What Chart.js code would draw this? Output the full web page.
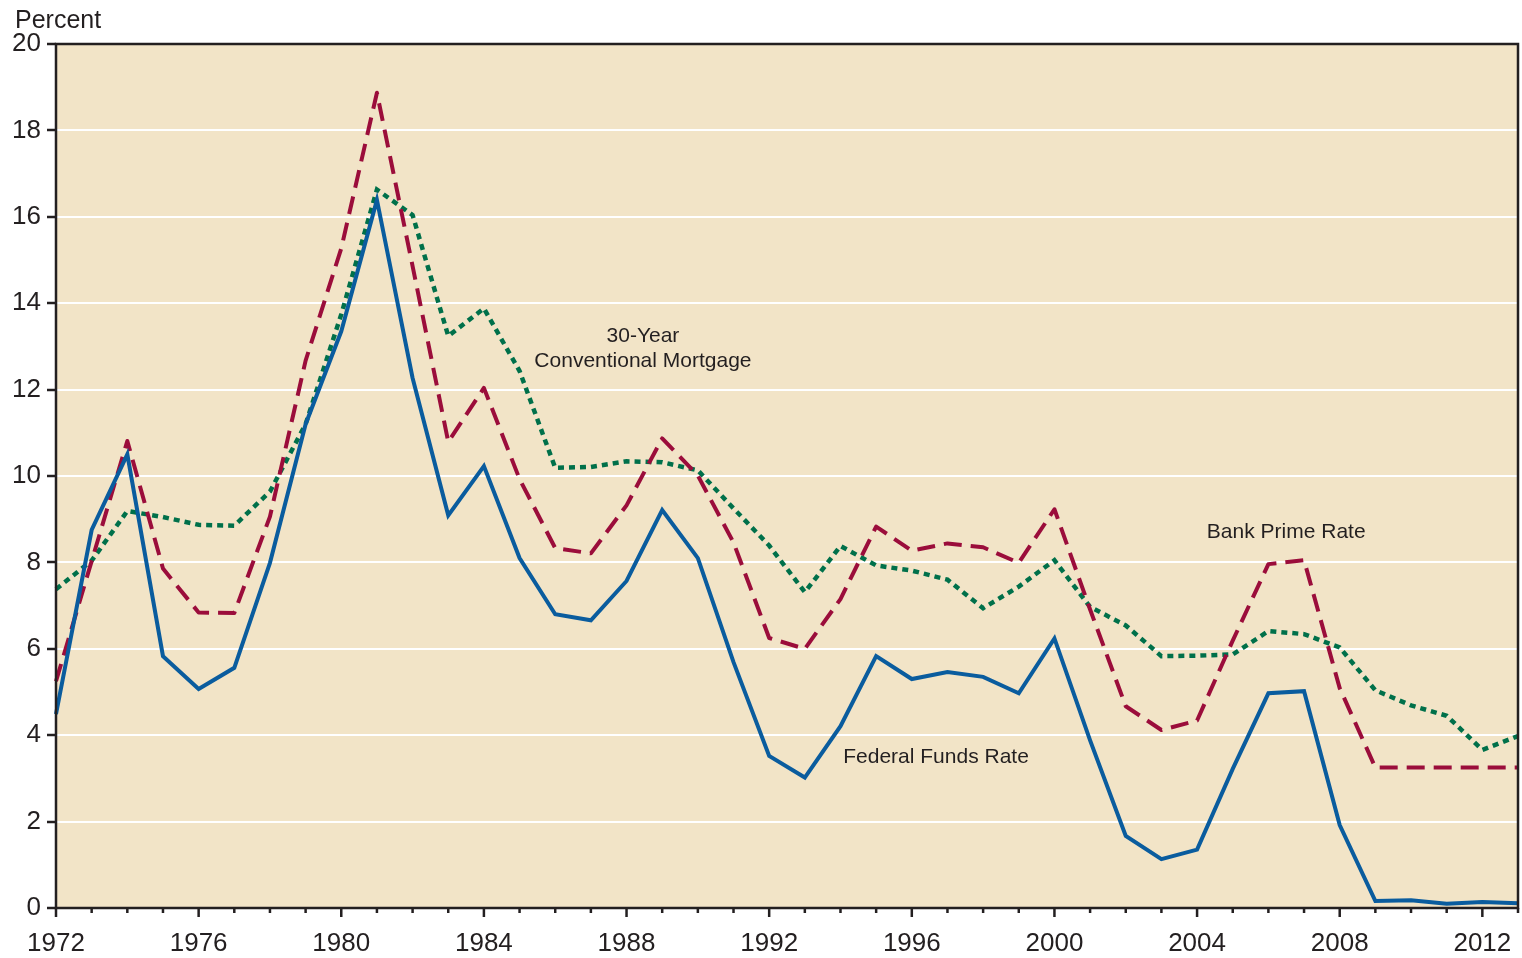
<!DOCTYPE html>
<html>
<head>
<meta charset="utf-8">
<script src="https://cdn.jsdelivr.net/npm/chart.js@4/dist/chart.umd.min.js"></script>
<style>
  body { margin: 0; background: #fff; }
  #wrap { width: 1522px; height: 958px; position: relative; }
</style>
</head>
<body>
<div id="wrap"><canvas id="rates"></canvas></div>
<script>
const years = [1972,1973,1974,1975,1976,1977,1978,1979,1980,1981,1982,1983,1984,1985,1986,1987,1988,1989,1990,1991,1992,1993,1994,1995,1996,1997,1998,1999,2000,2001,2002,2003,2004,2005,2006,2007,2008,2009,2010,2011,2012,2013];

const fedFunds = [4.49,8.75,10.5,5.83,5.07,5.56,7.99,11.2,13.35,16.39,12.27,9.09,10.23,8.1,6.8,6.66,7.57,9.21,8.1,5.69,3.52,3.02,4.21,5.83,5.3,5.46,5.35,4.97,6.24,3.88,1.67,1.13,1.35,3.22,4.97,5.02,1.92,0.16,0.18,0.1,0.14,0.11];

const primeRate = [5.25,8.03,10.81,7.86,6.84,6.83,9.06,12.67,15.27,18.87,14.86,10.79,12.04,9.93,8.33,8.21,9.32,10.87,10.01,8.46,6.25,6.0,7.15,8.83,8.27,8.44,8.35,7.99,9.23,6.91,4.67,4.12,4.34,6.19,7.96,8.05,5.09,3.25,3.25,3.25,3.25,3.25];

const mortgage = [7.38,8.04,9.19,9.05,8.87,8.85,9.64,11.2,13.74,16.63,16.04,13.24,13.88,12.43,10.19,10.21,10.34,10.32,10.13,9.25,8.39,7.31,8.38,7.93,7.81,7.6,6.94,7.44,8.05,6.97,6.54,5.83,5.84,5.87,6.41,6.34,6.03,5.04,4.69,4.45,3.66,3.98];

const yTicks = [0,2,4,6,8,10,12,14,16,18,20];

// series labels placed in data units
const notes = [
  { text: ['30-Year', 'Conventional Mortgage'], x: 1988.46, y: 13.24 },
  { text: ['Bank Prime Rate'], x: 2006.5, y: 8.71 },
  { text: ['Federal Funds Rate'], x: 1996.68, y: 3.5 }
];

const ink = '#231F20';
const font = '"Liberation Sans", Arial, sans-serif';

const framePlugin = {
  id: 'frame',
  beforeDraw(chart) {
    const { ctx, chartArea: a } = chart;
    ctx.save();
    ctx.fillStyle = '#F2E4C7';
    ctx.fillRect(a.left, a.top, a.right - a.left, a.bottom - a.top);
    ctx.restore();
  },
  afterDraw(chart) {
    const { ctx, chartArea: a, scales } = chart;
    ctx.save();
    // frame
    ctx.strokeStyle = ink;
    ctx.lineWidth = 2.5;
    ctx.strokeRect(a.left, a.top, a.right - a.left, a.bottom - a.top);
    // x ticks, long every 4 years
    years.forEach((yr, i) => {
      const px = scales.x.getPixelForValue(i);
      const len = (yr - 1972) % 4 === 0 ? 9 : 5;
      ctx.beginPath();
      ctx.moveTo(px, a.bottom);
      ctx.lineTo(px, a.bottom + len);
      ctx.stroke();
    });
    // "Percent"
    ctx.fillStyle = ink;
    ctx.font = '25px ' + font;
    ctx.textAlign = 'left';
    ctx.textBaseline = 'alphabetic';
    ctx.fillText('Percent', 15, 28);
    // series labels
    ctx.font = '21px ' + font;
    ctx.textAlign = 'center';
    ctx.textBaseline = 'middle';
    notes.forEach(n => {
      const px = scales.x.getPixelForValue(n.x - 1972);
      const py = scales.y.getPixelForValue(n.y);
      n.text.forEach((t, k) => ctx.fillText(t, px, py + k * 25));
    });
    ctx.restore();
  }
};

new Chart(document.getElementById('rates'), {
  type: 'line',
  data: {
    labels: years,
    datasets: [
      { label: 'Federal Funds Rate', data: fedFunds, borderColor: '#0A5C9E', borderWidth: 4, order: 1 },
      { label: 'Bank Prime Rate', data: primeRate, borderColor: '#9B0D3B', borderWidth: 4, borderDash: [18, 9], borderJoinStyle: 'round', order: 2 },
      { label: '30-Year Conventional Mortgage', data: mortgage, borderColor: '#00704A', borderWidth: 4.5, borderDash: [6, 5], order: 3 }
    ]
  },
  options: {
    responsive: true,
    maintainAspectRatio: false,
    animation: false,
    devicePixelRatio: 1,
    layout: { padding: { top: 44, right: 4, left: 0, bottom: 0 } },
    elements: { point: { radius: 0 }, line: { tension: 0, borderCapStyle: 'butt', borderJoinStyle: 'miter' } },
    plugins: { legend: { display: false }, tooltip: { enabled: false } },
    scales: {
      x: {
        type: 'category',
        offset: false,
        afterFit: s => { s.height = 50; s.paddingLeft = 0; s.paddingRight = 0; },
        border: { display: false },
        grid: { drawOnChartArea: false, drawTicks: true, tickLength: 10, tickColor: 'rgba(0,0,0,0)', offset: false },
        ticks: {
          autoSkip: false,
          maxRotation: 0,
          padding: 10,
          color: ink,
          font: { family: font, size: 26 },
          callback: (v, i) => (years[i] - 1972) % 4 === 0 ? String(years[i]) : ''
        }
      },
      y: {
        min: 0,
        max: 20,
        afterFit: s => { s.width = 56; s.paddingTop = 0; s.paddingBottom = 0; },
        afterBuildTicks: s => { s.ticks = yTicks.map(v => ({ value: v })); },
        border: { display: false },
        grid: { color: '#ffffff', lineWidth: 2, tickColor: ink, tickWidth: 2.5, tickLength: 9 },
        ticks: { padding: 6, color: ink, font: { family: font, size: 26 } }
      }
    }
  },
  plugins: [framePlugin]
});
</script>
</body>
</html>
